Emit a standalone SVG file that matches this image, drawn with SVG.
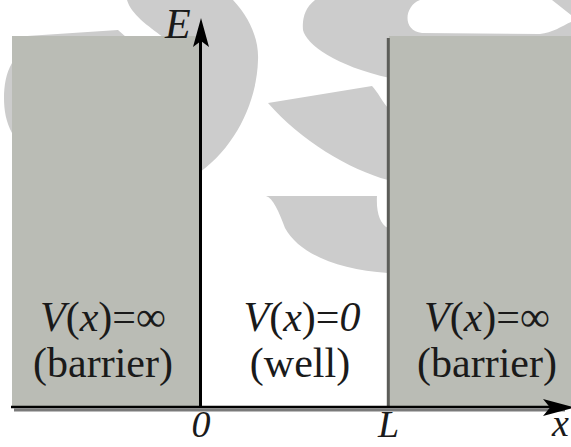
<svg xmlns="http://www.w3.org/2000/svg" width="571" height="447" viewBox="0 0 571 447">
<style>
.wm{fill:#cccccc}
.hole{fill:#ffffff}
.barrier{fill:#babcb5}
.lbl{font-family:'Liberation Serif','Times New Roman',serif;font-size:42px;fill:#1a1a1a}
.ax{font-family:'Liberation Serif','Times New Roman',serif;font-size:38px;font-style:italic;fill:#1a1a1a}
.it{font-style:italic}
</style>
<rect x="0" y="0" width="571" height="447" fill="#ffffff"/>
<g id="watermark">
<path class="wm" d="M12,37 L118,30 L126,37 L163,37 C148,26 131,14 127,0 L233,0 C250,18 259,40 258,60 C257,100 237,145 200,172 L12,172 L12,133 C6,122 4,110 4,98 C4,86 6,73 12,63 Z"/>
<path class="wm" d="M315,0 C305,8 302,18 303,30 C306,44 335,66 390,78 L571,78 L571,0 Z"/>
<path class="hole" d="M420,0 C404,6 402,31 422,33 L540,34 C552,33 562,26 571,22 L571,15 L552,0 Z"/>
<path class="wm" d="M268,103 L372,86 C378,92 382,102 390,110 L400,110 L400,182 L388,180 C350,170 300,140 268,103 Z"/>
<path class="wm" d="M266,196 L377,196 C376,212 380,224 388,228 L400,228 L400,274 L388,273 C340,270 300,255 285,228 C279,212 273,198 266,196 Z"/>
</g>
<g id="barrier-left">
<rect class="barrier" x="12" y="36" width="188" height="371"/>
<text class="lbl" x="103" y="331" text-anchor="middle"><tspan class="it">V</tspan>(<tspan class="it">x</tspan>)=∞</text>
<text class="lbl" x="103" y="377" text-anchor="middle">(barrier)</text>
</g>
<g id="well">
<text class="lbl" x="302" y="331" text-anchor="middle"><tspan class="it">V</tspan>(<tspan class="it">x</tspan>)=<tspan class="it">0</tspan></text>
<text class="lbl" x="300" y="377" text-anchor="middle">(well)</text>
</g>
<g id="barrier-right">
<rect class="barrier" x="389" y="36" width="182" height="371"/>
<line x1="388.3" y1="38" x2="388.3" y2="407" stroke="#5c5d59" stroke-width="3"/>
<text class="lbl" x="487" y="331" text-anchor="middle"><tspan class="it">V</tspan>(<tspan class="it">x</tspan>)=∞</text>
<text class="lbl" x="487" y="377" text-anchor="middle">(barrier)</text>
</g>
<g id="axes">
<line x1="14" y1="410" x2="565" y2="410" stroke="#7a7a7a" stroke-width="3"/>
<line x1="11" y1="407" x2="560" y2="407" stroke="#000000" stroke-width="2.5"/>
<line x1="200.5" y1="30" x2="200.5" y2="408" stroke="#000000" stroke-width="3"/>
<polygon points="201,18 209,47 201,41 193,47" fill="#000000"/>
<polygon points="575,407.5 543,399 550,407.5 543,416" fill="#000000"/>
<text class="ax" x="165" y="38" style="font-size:42px">E</text>
<text class="ax" x="201" y="437" text-anchor="middle">0</text>
<text class="ax" x="378" y="437">L</text>
<text class="ax" x="552" y="436">x</text>
</g>
</svg>
